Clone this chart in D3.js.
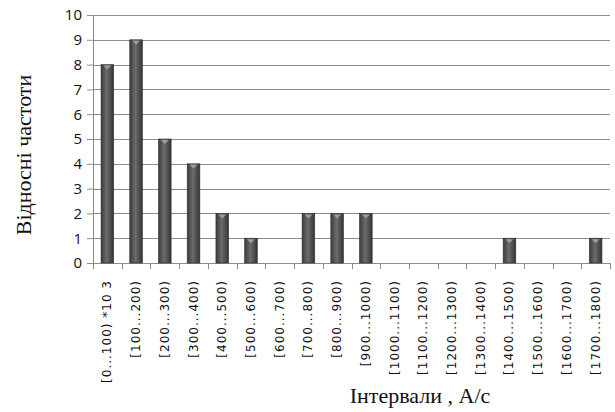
<!DOCTYPE html>
<html>
<head>
<meta charset="utf-8">
<script src="https://cdn.jsdelivr.net/npm/d3@7"></script>
<style>
  body { margin: 0; background: #fff; }
</style>
</head>
<body>
<div id="chart"></div>
<script>
// data
var categories = ["[0...100) *10 3", "[100...200)", "[200...300)", "[300...400)", "[400...500)",
    "[500...600)", "[600...700)", "[700...800)", "[800...900)", "[900...1000)",
    "[1000...1100)", "[1100...1200)", "[1200...1300)", "[1300...1400)", "[1400...1500)",
    "[1500...1600)", "[1600...1700)", "[1700...1800)"]
var frequencies = [8, 9, 5, 4, 2, 1, 0, 2, 2, 2, 0, 0, 0, 0, 1, 0, 0, 1]
var yTicks = [0, 1, 2, 3, 4, 5, 6, 7, 8, 9, 10]

var W = 615, H = 412
var margin = {top: 15, right: 5, bottom: 149, left: 93}
var width = W - margin.left - margin.right,
    height = H - margin.top - margin.bottom

var svg = d3.select("#chart").append("svg")
    .attr("width", W)
    .attr("height", H)

// cylinder-ish shading for the bars
var grad = svg.append("defs").append("linearGradient")
    .attr("id", "barGrad")
    .attr("x1", "0%").attr("x2", "100%").attr("y1", "0%").attr("y2", "0%")
grad.append("stop").attr("offset", "0%").attr("stop-color", "#3c3c3c")
grad.append("stop").attr("offset", "45%").attr("stop-color", "#6b6b6b")
grad.append("stop").attr("offset", "100%").attr("stop-color", "#353535")

var g = svg.append("g")
    .attr("transform", "translate(" + margin.left + "," + margin.top + ")")

var x = d3.scaleBand()
    .domain(categories)
    .range([0, width])
    .paddingInner(0.56)
    .paddingOuter(0.28)

var y = d3.scaleLinear()
    .domain([0, 10])
    .range([height, 0])

// gridlines
g.selectAll("line.grid")
    .data(yTicks)
    .enter()
    .append("line")
    .attr("class", "grid")
    .attr("x1", 0).attr("x2", width)
    .attr("y1", d => Math.round(y(d)) + 0.5)
    .attr("y2", d => Math.round(y(d)) + 0.5)
    .attr("stroke", "#8c8c8c")
    .attr("stroke-width", 1)

// Y axis
var yAxis = g.append("g")
    .call(d3.axisLeft(y).tickValues(yTicks).tickSize(6).tickPadding(5).tickFormat(d3.format("d")))
yAxis.select(".domain").attr("stroke", "#8c8c8c")
yAxis.selectAll(".tick line").attr("stroke", "#8c8c8c")
yAxis.selectAll("text")
    .style("font-family", "'Open Sans'")
    .style("font-size", "15px")
    .attr("fill", "#111")

// X axis: ticks sit between the categories
var step = x.step()
var tickPos = d3.range(categories.length + 1).map(i => x(categories[0]) - x.paddingInner() * step / 2 + i * step)
var xAxisG = g.append("g").attr("transform", "translate(0," + height + ")")
xAxisG.append("line")
    .attr("x1", 0).attr("x2", width)
    .attr("y1", 0.5).attr("y2", 0.5)
    .attr("stroke", "#8c8c8c")
xAxisG.selectAll("line.tk")
    .data(tickPos)
    .enter()
    .append("line")
    .attr("class", "tk")
    .attr("x1", d => Math.round(d) + 0.5).attr("x2", d => Math.round(d) + 0.5)
    .attr("y1", 0).attr("y2", 6)
    .attr("stroke", "#8c8c8c")
xAxisG.selectAll("text.lbl")
    .data(categories)
    .enter()
    .append("text")
    .attr("class", "lbl")
    .attr("transform", d => "translate(" + (x(d) + x.bandwidth() / 2 + 4) + ",17) rotate(-90)")
    .attr("text-anchor", "end")
    .style("font-family", "'DejaVu Sans'")
    .style("font-size", "12px")
    .style("letter-spacing", "1px")
    .attr("fill", "#111")
    .text(d => d)

// bars
g.selectAll("rect.bar")
    .data(frequencies)
    .enter()
    .append("rect")
    .attr("class", "bar")
    .attr("x", (d, i) => x(categories[i]))
    .attr("y", d => y(d))
    .attr("width", x.bandwidth())
    .attr("height", d => height - y(d))
    .attr("fill", "url(#barGrad)")
    .attr("stroke", "#2e2e2e")
    .attr("stroke-width", 0.6)
    .style("display", d => d > 0 ? null : "none")

// small light cap on top of each bar
g.selectAll("path.cap")
    .data(frequencies)
    .enter()
    .append("path")
    .attr("class", "cap")
    .attr("d", (d, i) => {
        var cx = x(categories[i]) + x.bandwidth() / 2, cy = y(d) + 1
        return "M" + (cx - 4) + "," + cy + "L" + (cx + 4) + "," + cy + "L" + cx + "," + (cy + 4) + "Z"
    })
    .attr("fill", "#9a9a9a")
    .style("display", d => d > 0 ? null : "none")

// axis titles
svg.append("text")
    .attr("transform", "translate(31," + (margin.top + height / 2 + 16) + ") rotate(-90)")
    .attr("text-anchor", "middle")
    .style("font-family", "'Liberation Serif'")
    .style("font-size", "22px")
    .attr("fill", "#111")
    .text("Відносні частоти")

svg.append("text")
    .attr("x", 420)
    .attr("y", 403)
    .attr("text-anchor", "middle")
    .style("font-family", "'Liberation Serif'")
    .style("font-size", "22px")
    .attr("fill", "#111")
    .text("Інтервали , А/с")
</script>
</body>
</html>
